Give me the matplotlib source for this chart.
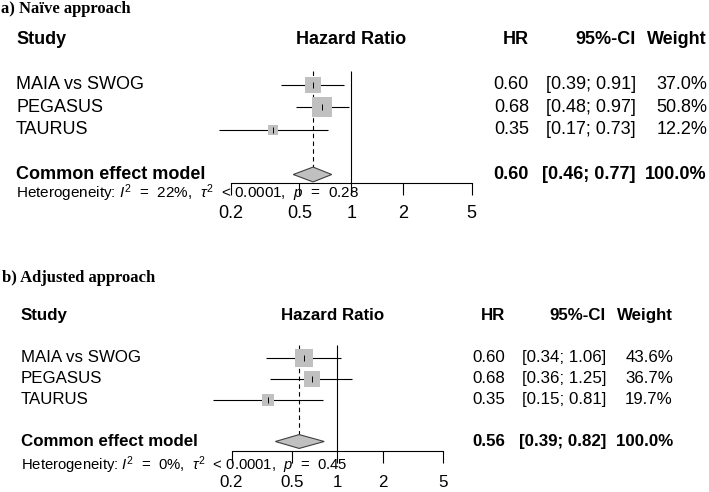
import numpy as np
import matplotlib.pyplot as plt

plt.rcParams['font.family'] = 'Liberation Sans'
plt.rcParams['mathtext.fontset'] = 'custom'
plt.rcParams['mathtext.rm'] = 'Liberation Sans'
plt.rcParams['mathtext.it'] = 'Liberation Sans:italic'

studies = ["MAIA vs SWOG", "PEGASUS", "TAURUS"]

# a) naive approach
hr_a = [0.60, 0.68, 0.35]
lo_a = [0.39, 0.48, 0.17]
hi_a = [0.91, 0.97, 0.73]
w_a = [37.0, 50.8, 12.2]
pooled_a = [0.60, 0.46, 0.77]
i2_a, p_a = 22, 0.28

# b) adjusted approach
hr_b = [0.60, 0.68, 0.35]
lo_b = [0.34, 0.36, 0.15]
hi_b = [1.06, 1.25, 0.81]
w_b = [43.6, 36.7, 19.7]
pooled_b = [0.56, 0.39, 0.82]
i2_b, p_b = 0, 0.45

ticks = [0.2, 0.5, 1, 2, 5]
tick_labels = ["0.2", "0.5", "1", "2", "5"]

W, H = 709, 492
fig = plt.figure(figsize=(W / 100, H / 100), dpi=100)
GREY = '#c0c0c0'


def ftext(x, y, s, **kw):
    # x, y in pixels from top-left
    return fig.text(x / W, 1 - y / H, s, **kw)


def panel(title, hr, lo, hi, w, pooled, i2, p, lay):
    ftext(lay['title_x'], lay['title_y'], title, family='Liberation Serif',
          weight='bold', size=12, va='center')

    head, step = lay['head'], lay['step']
    x0, x1, ay = lay['x0'], lay['x1'], lay['axis_y']
    ax = fig.add_axes([x0 / W, 1 - ay / H, (x1 - x0) / W, (ay - head) / H])
    ax.set_xscale('log')
    ybot = (ay - head) / step
    ax.set_xlim(ticks[0], ticks[-1])
    ax.set_ylim(ybot, 0)
    ax.patch.set_visible(False)
    for s in ['left', 'right', 'top']:
        ax.spines[s].set_visible(False)
    ax.spines['bottom'].set_linewidth(0.8)
    ax.set_yticks([])
    ax.set_xticks(ticks)
    ax.set_xticklabels(tick_labels)
    ax.xaxis.set_minor_locator(plt.NullLocator())
    ax.tick_params(axis='x', direction='out', length=8.6, width=0.8,
                   pad=lay['pad'], labelsize=lay['fs'])

    rows = np.arange(len(hr)) + 2
    prow = rows[-1] + 2
    dh = 0.33

    # reference line at 1 and dashed line at pooled estimate
    ax.vlines(1, 1.4, ybot, color='k', lw=0.8, clip_on=False)
    ax.vlines(pooled[0], 1.4, prow - dh, color='k', lw=0.8,
              linestyles=(0, (4, 3)), clip_on=False)

    ax.hlines(rows, lo, hi, color='k', lw=0.8, clip_on=False)
    wmax = max(w)
    for r, e, wi in zip(rows, hr, w):
        side = lay['smax'] * np.sqrt(wi / wmax) * 0.72
        ax.plot(e, r, marker='s', ms=side, color=GREY, mew=0, zorder=3,
                clip_on=False)
        ax.plot(e, r, marker='|', ms=4.5, color='k', mew=0.7, zorder=4,
                clip_on=False)

    est, plo, phi = pooled
    ax.fill([plo, est, phi, est], [prow, prow - dh, prow, prow + dh],
            facecolor=GREY, edgecolor='#404040', lw=0.8, zorder=3,
            clip_on=False)

    fs = lay['fs']
    ry = lambda r: head + step * r
    # headers
    ftext(lay['study_x'], head, "Study", weight='bold', size=fs, va='center')
    ftext(lay['hz_x'], head, "Hazard Ratio", weight='bold', size=fs,
          va='center', ha='center')
    ftext(lay['hr_x'], head, "HR", weight='bold', size=fs, va='center', ha='right')
    ftext(lay['ci_x'], head, "95%-CI", weight='bold', size=fs, va='center', ha='right')
    ftext(lay['w_x'], head, "Weight", weight='bold', size=fs, va='center', ha='right')

    for r, name, e, l, h, wi in zip(rows, studies, hr, lo, hi, w):
        y = ry(r)
        ftext(lay['study_x'], y, name, size=fs, va='center')
        ftext(lay['hr_x'], y, f"{e:.2f}", size=fs, va='center', ha='right')
        ftext(lay['ci_x'], y, f"[{l:.2f}; {h:.2f}]", size=fs, va='center', ha='right')
        ftext(lay['w_x'], y, f"{wi:.1f}%", size=fs, va='center', ha='right')

    y = ry(prow)
    ftext(lay['study_x'], y, "Common effect model", weight='bold', size=fs, va='center')
    ftext(lay['hr_x'], y, f"{est:.2f}", weight='bold', size=fs, va='center', ha='right')
    ftext(lay['ci_x'], y, f"[{plo:.2f}; {phi:.2f}]", weight='bold', size=fs,
          va='center', ha='right')
    ftext(lay['w_x'], y, f"{sum(w):.1f}%", weight='bold', size=fs, va='center', ha='right')

    # R plotmath spaces the operators a bit wider
    ftext(lay['study_x'], lay['het_y'],
          rf"Heterogeneity: $I^2$  =  {i2}%,  $\tau^2$  < 0.0001,  $p$  =  {p:.2f}",
          size=lay['het_fs'], va='baseline')


lay_a = dict(title_x=1, title_y=9, x0=231, x1=471.5, axis_y=183, head=39.5,
             step=22.5, study_x=16, hz_x=351, hr_x=529, ci_x=636, w_x=707,
             het_y=198, fs=13, het_fs=11, smax=19.5, pad=7)
lay_b = dict(title_x=2, title_y=278, x0=231.5, x1=443, axis_y=451, head=315.5,
             step=21, study_x=21, hz_x=333, hr_x=505, ci_x=606, w_x=673,
             het_y=470, fs=12.2, het_fs=10.7, smax=17.5, pad=8.5)

panel("a) Naïve approach", hr_a, lo_a, hi_a, w_a, pooled_a, i2_a, p_a, lay_a)
panel("b) Adjusted approach", hr_b, lo_b, hi_b, w_b, pooled_b, i2_b, p_b, lay_b)

fig.savefig("out.png", dpi=100)
